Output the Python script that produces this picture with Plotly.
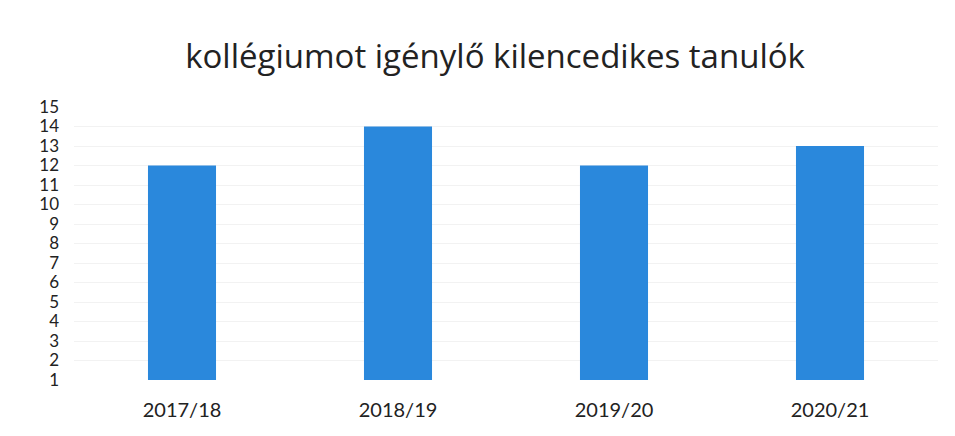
import plotly.graph_objects as go

categories = ["2017/18", "2018/19", "2019/20", "2020/21"]
values = [12, 14, 12, 13]
axis_min = 1
y_ticks = list(range(1, 16))
title_text = "kollégiumot igénylő kilencedikes tanulók"

fig = go.Figure(go.Bar(
    x=categories, y=[v - axis_min for v in values], base=axis_min,
    marker=dict(color="#2a88dc", line=dict(width=0)),
    width=0.315,
))

fig.update_layout(
    width=955, height=436,
    margin=dict(l=66, r=25, t=99, b=64),
    paper_bgcolor="white", plot_bgcolor="white",
    font=dict(family="Lato, Open Sans, sans-serif", color="#222222"),
    title=dict(text=title_text, x=0.51, xanchor="center", y=0.89, yanchor="middle",
               font=dict(size=33, color="#222222", family="Open Sans, Lato, sans-serif")),
    showlegend=False,
)
fig.update_xaxes(showgrid=False, showline=False, ticks="", tickfont=dict(size=20),
                 ticklabelstandoff=16)
fig.update_yaxes(range=[1, 15], tickvals=y_ticks, ticktext=[str(t) for t in y_ticks],
                 showgrid=True, gridcolor="#f2f2f2", gridwidth=1, zeroline=False,
                 showline=False, ticks="", tickfont=dict(size=17), ticklabelstandoff=14)

fig.write_html("out.html")
